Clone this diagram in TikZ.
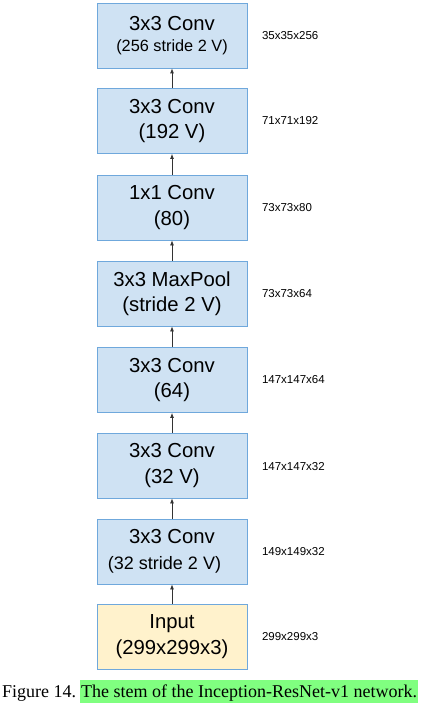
\documentclass[tikz,border=0pt]{standalone}
\usepackage{fontspec}
\setmainfont{Liberation Serif}
\setsansfont{Liberation Sans}
\usepackage{tikz}
\usetikzlibrary{arrows.meta, positioning}
\definecolor{stemBlue}{RGB}{207, 226, 243}
\definecolor{stemEdge}{RGB}{111, 168, 220}
\definecolor{stemYellow}{RGB}{255, 242, 204}
\definecolor{hlGreen}{RGB}{128, 255, 128}

\begin{document}
\begin{tikzpicture}[
  x=1pt, y=-1pt,
  layer/.style={rectangle, draw=stemEdge, fill=stemBlue, line width=0.8pt,
                minimum width=150pt, minimum height=65pt, align=center,
                font=\sffamily\fontsize{20.3}{25.5}\selectfont},
  inlayer/.style={layer, fill=stemYellow},
  dims/.style={anchor=west, font=\sffamily\fontsize{11.5}{13}\selectfont},
  caption/.style={anchor=base west, inner sep=0pt, font=\fontsize{18}{20}\selectfont},
  flow/.style={-{Latex[length=5pt, width=4pt]}, line width=0.8pt, black!80}
]
  \useasboundingbox (0,0) rectangle (422,703);

  % Couches du stem
  \node[layer] (conv6) at (172, 35.5)  {3x3 Conv\\[-5pt]{\fontsize{16.3}{19}\selectfont(256 stride 2 V)}};
  \node[layer] (conv5) at (172, 121)   {3x3 Conv\\(192 V)};
  \node[layer] (conv4) at (172, 207.5) {1x1 Conv\\(80)};
  \node[layer] (pool)  at (172, 293.5) {3x3 MaxPool\\(stride 2 V)};
  \node[layer] (conv3) at (172, 380)   {3x3 Conv\\(64)};
  \node[layer] (conv2) at (172, 465.5) {3x3 Conv\\(32 V)};
  \node[layer] (conv1) at (172, 551.5) {3x3 Conv\\{\fontsize{18}{19}\selectfont(32 stride 2 V)}\hspace*{15pt}};
  \node[inlayer] (input) at (172, 636.5) {Input\\(299x299x3)};

  % Tailles des sorties
  \node[dims] (d6) at (258.5, 35.5)  {35x35x256};
  \node[dims] (d5) at (258.5, 121)   {71x71x192};
  \node[dims] (d4) at (258.5, 207.5) {73x73x80};
  \node[dims] (d3) at (258.5, 293.5) {73x73x64};
  \node[dims] (d2) at (258.5, 380)   {147x147x64};
  \node[dims] (d1) at (258.5, 466.5) {147x147x32};
  \node[dims] (d0) at (258.5, 551.5) {149x149x32};
  \node[dims] (di) at (258.5, 636.5) {299x299x3};

  % Flèches
  \draw[flow] (input) -- (conv1);
  \draw[flow] (conv1) -- (conv2);
  \draw[flow] (conv2) -- (conv3);
  \draw[flow] (conv3) -- (pool);
  \draw[flow] (pool)  -- (conv4);
  \draw[flow] (conv4) -- (conv5);
  \draw[flow] (conv5) -- (conv6);

  % Légende
  \node[caption] (figno) at (2, 697) {Figure 14.};
  \node[caption, fill=hlGreen, inner xsep=1pt, inner ysep=4pt] (stem)
    at ([xshift=3.5pt]figno.base east) {The stem of the Inception-ResNet-v1 network.};
\end{tikzpicture}
\end{document}
